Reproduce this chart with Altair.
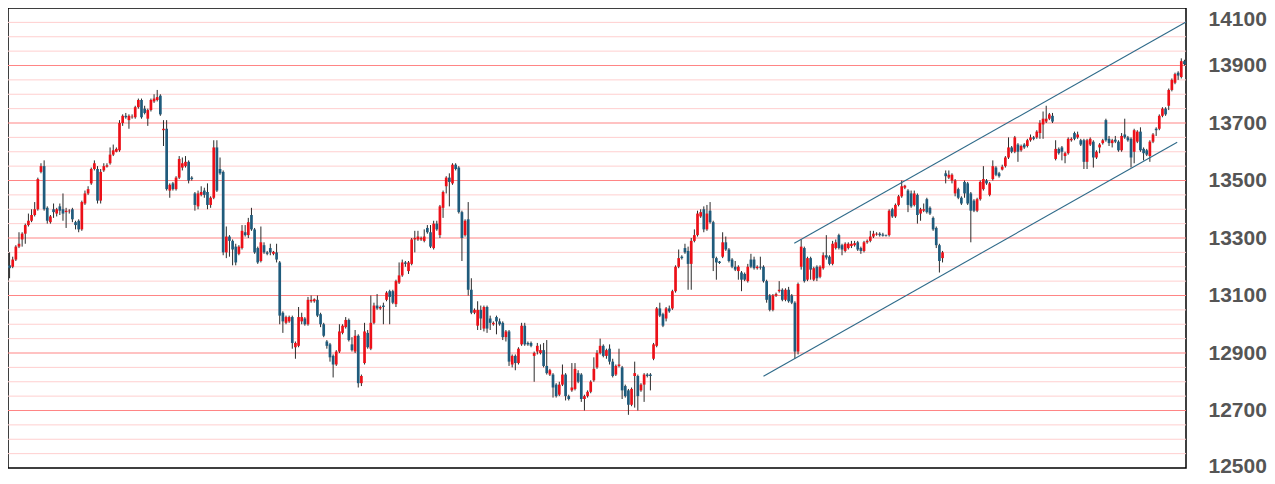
import altair as alt
import pandas as pd

opens = [
    13205,13200,13225,13270,13295,13315,13345,13360,13380,13400,
    13530,13550,13405,13355,13400,13385,13410,13400,13390,13393,
    13400,13355,13360,13330,13420,13455,13490,13540,13540,13430,
    13535,13548,13560,13590,13600,13605,13700,13725,13710,13720,
    13720,13755,13780,13750,13715,13745,13775,13780,13795,13675,
    13680,13465,13490,13470,13510,13545,13550,13565,13510,13455,
    13410,13450,13465,13460,13415,13440,13615,13540,13530,13250,
    13305,13290,13270,13245,13265,13320,13310,13380,13330,13265,
    13220,13275,13250,13265,13245,13250,13215,13040,13005,13010,
    13025,12920,12925,13010,13020,13000,13080,13080,13085,13035,
    13000,12940,12930,12890,12860,12905,12970,12990,13015,12930,
    12905,12960,12795,12865,12970,12915,13005,13065,13055,13065,
    13085,13115,13115,13070,13145,13170,13215,13185,13210,13295,
    13295,13295,13290,13335,13320,13265,13350,13310,13405,13480,
    13510,13490,13555,13545,13390,13310,13365,13120,13040,12995,
    13050,12985,13060,13020,13000,13025,13010,13005,12955,12975,
    12860,12890,12865,12930,12995,12935,12935,12890,12905,12900,
    12910,12855,12825,12825,12790,12755,12790,12825,12750,12770,
    12775,12830,12825,12740,12750,12765,12805,12850,12900,12925,
    12890,12915,12870,12825,12855,12850,12785,12770,12720,12820,
    12820,12770,12790,12825,12825,12880,12925,13055,13035,13020,
    13055,13055,13115,13200,13235,13265,13255,13210,13290,13310,
    13375,13400,13330,13395,13355,13230,13218,13235,13285,13260,
    13225,13200,13185,13180,13175,13150,13225,13225,13195,13200,
    13200,13150,13100,13050,13100,13115,13120,13085,13120,13100,
    13075,12905,13200,13265,13155,13230,13155,13200,13165,13195,
    13240,13235,13210,13265,13310,13275,13255,13265,13272,13275,
    13285,13265,13255,13285,13290,13305,13312,13315,13312,13310,
    13310,13400,13375,13415,13445,13475,13465,13455,13415,13450,
    13385,13395,13435,13405,13370,13335,13275,13230,13525,13510,
    13500,13455,13470,13440,13495,13490,13455,13430,13395,13435,
    13470,13500,13450,13505,13545,13525,13538,13550,13580,13615,
    13600,13625,13605,13625,13620,13640,13650,13650,13665,13695,
    13705,13715,13725,13575,13610,13615,13585,13595,13640,13665,
    13650,13640,13640,13565,13625,13635,13580,13615,13630,13710,
    13645,13630,13642,13635,13605,13660,13650,13645,13600,13635,
    13670,13610,13605,13585,13635,13680,13680,13725,13750,13760,
    13815,13840,13875,13860,13915,
]
highs = [
    13250,13235,13275,13320,13320,13350,13385,13400,13425,13510,
    13560,13570,13410,13380,13420,13405,13420,13455,13405,13400,
    13405,13360,13365,13430,13465,13480,13545,13570,13550,13540,
    13560,13560,13615,13625,13615,13710,13730,13735,13730,13730,
    13760,13785,13785,13760,13750,13785,13800,13815,13800,13710,
    13710,13490,13495,13515,13585,13580,13585,13570,13515,13460,
    13465,13480,13475,13490,13445,13640,13640,13580,13535,13340,
    13310,13295,13280,13275,13345,13345,13370,13405,13335,13270,
    13340,13285,13255,13280,13255,13280,13220,13045,13030,13030,
    13030,12940,13060,13040,13025,13095,13100,13090,13100,13040,
    13005,12945,12935,12895,12910,13000,13000,13025,13020,12955,
    12980,12965,12825,13005,12980,13100,13075,13105,13065,13075,
    13115,13120,13120,13155,13215,13225,13220,13220,13300,13325,
    13325,13305,13330,13345,13345,13360,13360,13415,13465,13515,
    13525,13560,13560,13550,13395,13365,13425,13160,13055,13080,
    13065,13065,13065,13030,13010,13030,13020,13010,12980,12980,
    12895,12895,12920,13005,13005,12940,12940,12905,12935,12930,
    12935,12945,12845,12830,12795,12800,12860,12830,12755,12865,
    12865,12840,12830,12755,12770,12805,12885,12910,12950,12930,
    12915,12930,12880,12860,12915,12855,12790,12775,12780,12870,
    12825,12795,12830,12830,12830,12935,13060,13075,13040,13060,
    13065,13120,13205,13260,13240,13280,13270,13300,13330,13395,
    13400,13410,13415,13425,13360,13235,13220,13320,13305,13265,
    13230,13220,13205,13185,13180,13210,13245,13235,13205,13235,
    13205,13155,13105,13105,13110,13150,13125,13125,13130,13105,
    13080,13145,13295,13270,13235,13235,13200,13205,13205,13250,
    13310,13240,13290,13295,13315,13280,13285,13285,13290,13290,
    13290,13270,13290,13295,13325,13325,13320,13320,13318,13312,
    13400,13405,13420,13450,13500,13485,13470,13465,13465,13455,
    13405,13420,13440,13410,13375,13340,13280,13255,13535,13535,
    13525,13505,13475,13445,13500,13495,13460,13435,13440,13500,
    13550,13505,13495,13570,13550,13530,13555,13585,13650,13620,
    13655,13630,13625,13630,13645,13660,13655,13675,13710,13740,
    13760,13735,13735,13640,13615,13620,13600,13650,13650,13670,
    13670,13645,13645,13645,13650,13640,13605,13630,13645,13715,
    13655,13645,13655,13640,13665,13715,13655,13650,13680,13675,
    13685,13615,13610,13640,13665,13685,13730,13755,13755,13820,
    13855,13875,13880,13925,13920,
]
lows = [
    13160,13195,13220,13265,13270,13280,13340,13355,13375,13395,
    13525,13395,13350,13350,13370,13375,13380,13360,13335,13385,
    13355,13330,13320,13325,13415,13450,13485,13535,13420,13420,
    13530,13545,13555,13585,13598,13600,13690,13715,13680,13715,
    13715,13750,13715,13730,13690,13740,13770,13775,13725,13620,
    13465,13440,13465,13465,13505,13535,13545,13490,13500,13395,
    13400,13445,13440,13400,13405,13435,13460,13520,13240,13230,
    13235,13205,13205,13240,13260,13305,13300,13325,13245,13210,
    13215,13245,13240,13240,13240,13215,13000,12970,13000,13005,
    12915,12880,12920,13000,12995,12995,13075,13075,13025,12990,
    12955,12915,12870,12815,12855,12900,12965,12985,12940,12905,
    12900,12780,12785,12860,12915,12910,13000,13050,13050,13000,
    13080,13000,13070,13060,13140,13165,13200,13175,13205,13250,
    13290,13290,13285,13315,13265,13260,13325,13300,13370,13455,
    13410,13485,13535,13385,13220,13305,13100,13035,13035,12980,
    12980,12975,12970,12980,12995,12965,12995,12945,12940,12855,
    12850,12840,12860,12925,12925,12925,12920,12800,12895,12895,
    12850,12825,12820,12745,12745,12750,12785,12735,12735,12765,
    12770,12795,12730,12700,12745,12760,12800,12845,12895,12885,
    12880,12860,12815,12820,12850,12740,12745,12685,12715,12710,
    12700,12765,12730,12815,12770,12875,12920,13025,12990,13010,
    13040,13050,13110,13195,13225,13245,13120,13120,13285,13305,
    13370,13320,13325,13350,13185,13155,13210,13230,13255,13215,
    13195,13185,13155,13115,13150,13145,13195,13190,13190,13190,
    13145,13075,13045,13045,13095,13110,13080,13080,13075,13070,
    12880,12895,13190,13145,13150,13155,13150,13150,13160,13190,
    13225,13205,13205,13260,13260,13240,13250,13260,13265,13270,
    13255,13245,13250,13280,13285,13300,13308,13305,13305,13305,
    13305,13370,13370,13410,13440,13470,13390,13405,13410,13350,
    13360,13390,13385,13380,13325,13265,13180,13215,13490,13505,
    13490,13445,13435,13415,13440,13415,13285,13390,13390,13430,
    13465,13485,13445,13500,13515,13510,13535,13545,13575,13595,
    13595,13565,13600,13610,13615,13635,13640,13645,13645,13645,
    13700,13710,13700,13570,13590,13570,13560,13590,13635,13640,
    13645,13620,13540,13540,13620,13545,13575,13595,13625,13635,
    13620,13615,13630,13600,13600,13645,13635,13545,13560,13630,
    13600,13570,13585,13565,13630,13655,13675,13720,13725,13745,
    13810,13835,13850,13855,13900,
]
closes = [
    13195,13225,13270,13280,13315,13345,13360,13380,13400,13505,
    13550,13400,13360,13375,13390,13400,13395,13385,13395,13395,
    13365,13345,13330,13425,13455,13470,13540,13560,13430,13530,
    13550,13553,13590,13605,13610,13700,13725,13720,13725,13722,
    13755,13780,13720,13735,13745,13780,13785,13790,13730,13680,
    13470,13485,13470,13510,13575,13560,13565,13500,13505,13415,
    13455,13460,13450,13415,13440,13615,13465,13525,13250,13305,
    13290,13260,13215,13270,13325,13310,13355,13330,13250,13215,
    13285,13250,13245,13250,13252,13225,13030,13010,13025,13025,
    12935,12935,13025,13025,13000,13085,13085,13087,13030,13000,
    12960,12925,12885,12860,12905,12975,12995,13015,12945,12910,
    12960,12795,12820,12975,12920,13005,13065,13055,13060,13060,
    13110,13095,13075,13150,13170,13215,13210,13215,13295,13300,
    13305,13300,13305,13320,13270,13350,13330,13410,13460,13510,
    13495,13555,13540,13390,13300,13360,13120,13040,13050,13050,
    13020,13060,12985,13005,13005,13010,13000,12955,12975,12870,
    12890,12865,12915,12995,12930,12930,12925,12900,12925,12910,
    12855,12830,12840,12780,12750,12790,12825,12750,12740,12780,
    12845,12800,12740,12750,12765,12800,12845,12900,12925,12890,
    12910,12870,12820,12855,12860,12770,12750,12720,12775,12830,
    12750,12790,12825,12820,12820,12930,13055,13030,12995,13055,
    13045,13115,13200,13230,13230,13250,13210,13290,13310,13385,
    13390,13330,13385,13355,13230,13215,13213,13285,13260,13220,
    13200,13190,13200,13155,13155,13200,13200,13195,13200,13197,
    13150,13085,13050,13100,13105,13120,13085,13120,13080,13075,
    12905,13140,13270,13150,13230,13190,13195,13160,13200,13240,
    13232,13210,13280,13285,13265,13260,13280,13280,13280,13282,
    13260,13255,13285,13290,13305,13315,13315,13310,13308,13308,
    13395,13375,13415,13445,13480,13482,13415,13410,13455,13380,
    13400,13400,13390,13385,13330,13275,13220,13250,13515,13520,
    13520,13500,13440,13420,13455,13420,13395,13395,13435,13495,
    13505,13490,13490,13550,13520,13515,13548,13580,13615,13600,
    13650,13600,13620,13615,13640,13650,13645,13670,13700,13715,
    13715,13730,13705,13610,13595,13600,13595,13645,13645,13645,
    13660,13625,13565,13640,13645,13580,13600,13625,13640,13640,
    13630,13640,13635,13605,13655,13650,13640,13580,13675,13670,
    13605,13595,13590,13635,13660,13675,13725,13750,13730,13815,
    13850,13870,13865,13915,13905,
]

# price axis labels and grid levels
tick_values = [12500, 12700, 12900, 13100, 13300, 13500, 13700, 13900, 14100]
grid_levels = [12550, 12600, 12650, 12700, 12750, 12800, 12850, 12900, 12950, 13000,
               13050, 13100, 13150, 13200, 13250, 13300, 13350, 13400, 13450, 13500,
               13550, 13600, 13650, 13700, 13750, 13800, 13850, 13900, 13950, 14000, 14050]

# channel (trend) lines: start index, start price, end index, end price
trend_i1 = [249.8, 240.0]
trend_p1 = [13282, 12819]
trend_i2 = [374.5, 371.7]
trend_p2 = [14051, 13633]

n = len(opens)
df = pd.DataFrame({"i": list(range(n)), "open": opens, "high": highs,
                   "low": lows, "close": closes})
df["dir"] = ["up" if c >= o else "down" for o, c in zip(opens, closes)]

grid_df = pd.DataFrame({"level": grid_levels,
                        "kind": ["major" if v in tick_values else "minor" for v in grid_levels]})
trend_df = pd.DataFrame({"i1": trend_i1, "p1": trend_p1, "i2": trend_i2, "p2": trend_p2})

x_scale = alt.Scale(domain=[-0.5, n - 0.5], nice=False, zero=False)
y_scale = alt.Scale(domain=[12500, 14100], nice=False, zero=False)
y_axis = alt.Axis(orient="right", values=tick_values, title=None, ticks=False,
                  domain=False, grid=False, labelFontSize=21, labelFontWeight="bold",
                  labelColor="#555555", labelFont="Liberation Sans", labelPadding=22,
                  labelAlign="left",
                  labelBaseline={"condition": {"test": "datum.value == 14100", "value": "top"},
                                 "value": "middle"},
                  labelOffset={"condition": {"test": "datum.value == 12500", "value": -2},
                               "value": 0},
                  labelOverlap=False, format="d")

grid = alt.Chart(grid_df).mark_rule(strokeWidth=1).encode(
    y=alt.Y("level:Q", scale=y_scale, axis=y_axis),
    color=alt.Color("kind:N", scale=alt.Scale(domain=["major", "minor"],
                                              range=["#ff8585", "#ffcfcf"]), legend=None),
)

wicks = alt.Chart(df).mark_rule(strokeWidth=1, color="#2b2b2b").encode(
    x=alt.X("i:Q", scale=x_scale, axis=None),
    y=alt.Y("low:Q", scale=y_scale, axis=y_axis),
    y2="high:Q",
)

bodies = alt.Chart(df).mark_rule(strokeWidth=2.7, strokeCap="butt").encode(
    x=alt.X("i:Q", scale=x_scale, axis=None),
    y=alt.Y("open:Q", scale=y_scale, axis=y_axis),
    y2="close:Q",
    color=alt.Color("dir:N", scale=alt.Scale(domain=["up", "down"],
                                             range=["#ec1018", "#1f5b7c"]), legend=None),
)

trend = alt.Chart(trend_df).mark_rule(strokeWidth=1.1, color="#2e6a89").encode(
    x=alt.X("i1:Q", scale=x_scale, axis=None),
    x2="i2:Q",
    y=alt.Y("p1:Q", scale=y_scale, axis=y_axis),
    y2="p2:Q",
)

chart = alt.layer(grid, wicks, bodies, trend).resolve_scale(color="independent").properties(
    width=1178,
    height=460,
    autosize=alt.AutoSizeParams(type="none"),
    padding={"left": 0, "top": 0, "right": 81, "bottom": 8},
    background="white",
).configure_view(stroke="#000000", strokeWidth=1.5)

chart.save("out.html", embed_options={"renderer": "svg", "actions": False})
